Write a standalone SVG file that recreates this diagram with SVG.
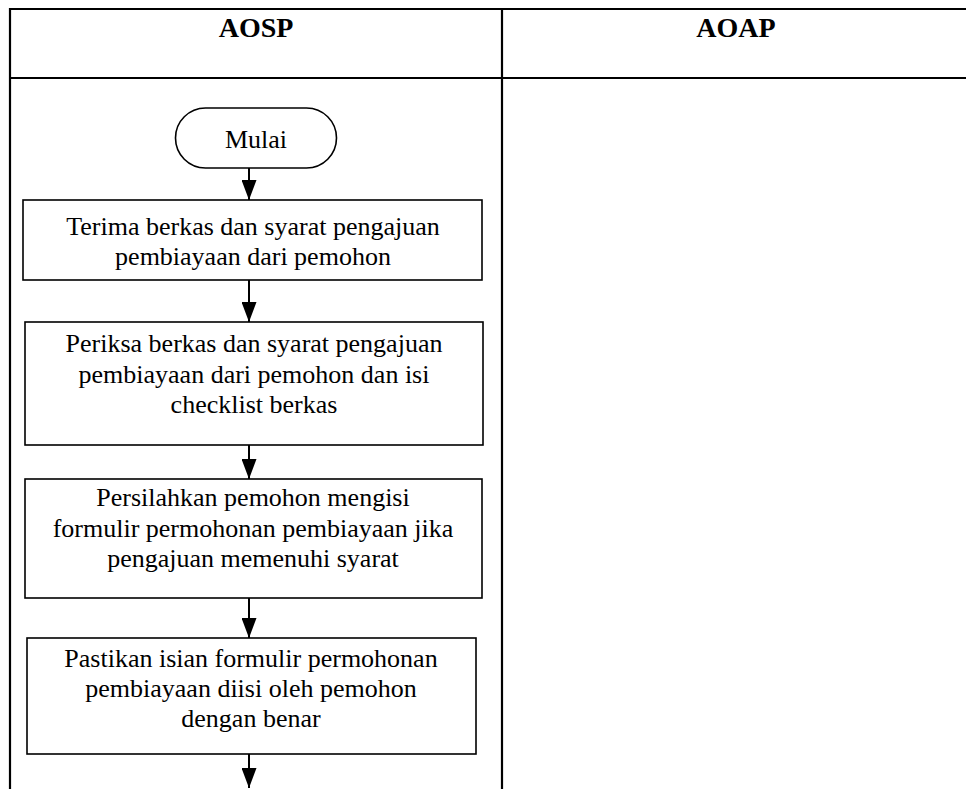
<svg xmlns="http://www.w3.org/2000/svg" width="966" height="789" viewBox="0 0 966 789">
<style>
.tbl{stroke:#000;stroke-width:2.2;fill:none}
.box{stroke:#000;stroke-width:1.6;fill:#fff}
.hd{font-family:'Liberation Serif','Times New Roman','DejaVu Serif',serif;font-weight:bold;font-size:28px;text-anchor:middle;fill:#000}
.tx{font-family:'Liberation Serif','Times New Roman','DejaVu Serif',serif;font-size:26px;text-anchor:middle;fill:#000}
.ln{stroke:#000;stroke-width:2;fill:none}
</style>
<defs>
<marker id="ah" viewBox="0 0 10 10" refX="10" refY="5" markerWidth="20" markerHeight="15" markerUnits="userSpaceOnUse" orient="auto" preserveAspectRatio="none">
<path d="M0,0 L10,5 L0,10 z" fill="#000"/>
</marker>
</defs>
<rect width="966" height="789" fill="#fff"/>
<g id="table">
<line class="tbl" x1="10" y1="9" x2="966" y2="9"/>
<line class="tbl" x1="10" y1="78" x2="966" y2="78"/>
<line class="tbl" x1="10" y1="8" x2="10" y2="789"/>
<line class="tbl" x1="502" y1="8" x2="502" y2="789"/>
<text class="hd" x="256" y="37">AOSP</text>
<text class="hd" x="736" y="37">AOAP</text>
</g>
<g id="connectors">
<line class="ln" x1="249" y1="168" x2="249" y2="200" marker-end="url(#ah)"/>
<line class="ln" x1="249" y1="280" x2="249" y2="322" marker-end="url(#ah)"/>
<line class="ln" x1="249" y1="445" x2="249" y2="479" marker-end="url(#ah)"/>
<line class="ln" x1="249" y1="598" x2="249" y2="638" marker-end="url(#ah)"/>
<line class="ln" x1="249" y1="754" x2="249" y2="788" marker-end="url(#ah)"/>
</g>
<g id="mulai">
<rect class="box" x="175.5" y="108" width="161" height="60" rx="30" ry="30"/>
<text class="tx" x="256" y="148">Mulai</text>
</g>
<g id="terima">
<rect class="box" x="23" y="200" width="459" height="80"/>
<text class="tx" x="253" y="235">Terima berkas dan syarat pengajuan</text>
<text class="tx" x="253" y="265">pembiayaan dari pemohon</text>
</g>
<g id="periksa">
<rect class="box" x="25" y="322" width="458" height="123"/>
<text class="tx" x="254" y="352">Periksa berkas dan syarat pengajuan</text>
<text class="tx" x="254" y="383">pembiayaan dari pemohon dan isi</text>
<text class="tx" x="254" y="413">checklist berkas</text>
</g>
<g id="persilahkan">
<rect class="box" x="25" y="479" width="457" height="119"/>
<text class="tx" x="253" y="506">Persilahkan pemohon mengisi</text>
<text class="tx" x="253" y="537">formulir permohonan pembiayaan jika</text>
<text class="tx" x="253" y="567">pengajuan memenuhi syarat</text>
</g>
<g id="pastikan">
<rect class="box" x="27" y="638" width="449" height="116"/>
<text class="tx" x="251" y="667">Pastikan isian formulir permohonan</text>
<text class="tx" x="251" y="697">pembiayaan diisi oleh pemohon</text>
<text class="tx" x="251" y="727">dengan benar</text>
</g>
</svg>
